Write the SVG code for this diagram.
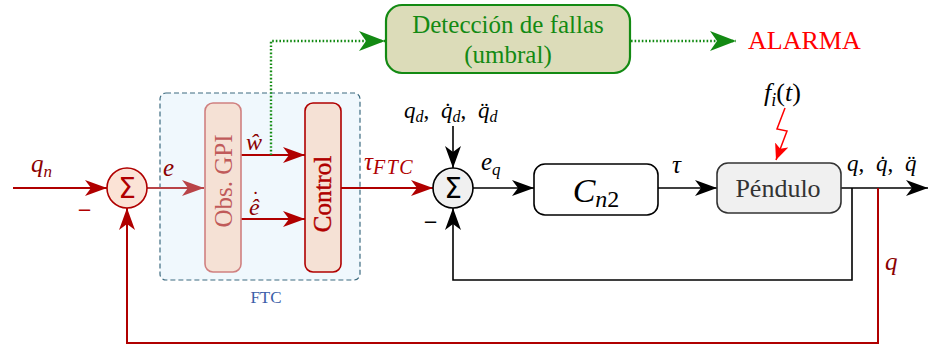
<svg xmlns="http://www.w3.org/2000/svg" width="929" height="346" viewBox="0 0 929 346">
<style>
.t{font-family:"Liberation Serif","DejaVu Serif",serif;}
.m{font-family:"Liberation Serif","DejaVu Serif",serif;font-style:italic;}
.s{font-family:"DejaVu Sans",sans-serif;}
.blk{stroke:#000;stroke-width:1.6;fill:none;}
.red{stroke:#b00000;stroke-width:2;fill:none;}
.lred{stroke:#b94448;stroke-width:2;fill:none;}
.grn{stroke:#138a13;stroke-width:2.4;fill:none;stroke-dasharray:1.6 2;}
</style>
<defs>
<marker id="ab" markerUnits="userSpaceOnUse" viewBox="0 0 22 16" refX="22" refY="8" markerWidth="22" markerHeight="16" orient="auto"><path d="M0,0 L22,8 L0,16 L6,8 z" fill="#000"/></marker>
<marker id="ar" markerUnits="userSpaceOnUse" viewBox="0 0 22 16" refX="22" refY="8" markerWidth="22" markerHeight="16" orient="auto"><path d="M0,0 L22,8 L0,16 L6,8 z" fill="#b00000"/></marker>
<marker id="al" markerUnits="userSpaceOnUse" viewBox="0 0 22 16" refX="22" refY="8" markerWidth="22" markerHeight="16" orient="auto"><path d="M0,0 L22,8 L0,16 L6,8 z" fill="#b94448"/></marker>
<marker id="ag" markerUnits="userSpaceOnUse" viewBox="0 0 26 20" refX="26" refY="10" markerWidth="26" markerHeight="20" orient="auto"><path d="M0,0 L26,10 L0,20 L7,10 z" fill="#138a13"/></marker>
<marker id="af" markerUnits="userSpaceOnUse" viewBox="0 0 16 14" refX="16" refY="7" markerWidth="16" markerHeight="14" orient="auto"><path d="M0,0 L16,7 L0,14 L4,7 z" fill="#ff0000"/></marker>
</defs>

<g id="ftc">
<rect x="160" y="93" width="200" height="187" rx="6" fill="#f0f8fd" stroke="#3d6b80" stroke-width="1.2" stroke-dasharray="5 3"/>
<text class="t" x="266" y="303" font-size="17" fill="#3b5ea8" text-anchor="middle">FTC</text>
</g>

<g id="connectors">
<line class="red" x1="13" y1="188" x2="107" y2="188" marker-end="url(#ar)"/>
<line class="lred" x1="147" y1="188" x2="204" y2="188" marker-end="url(#al)"/>
<line class="red" x1="241" y1="155" x2="305" y2="155" marker-end="url(#ar)"/>
<line class="red" x1="241" y1="219" x2="305" y2="219" marker-end="url(#ar)"/>
<polyline class="grn" points="271,155 271,41 385,41" marker-end="url(#ag)"/>
<line class="grn" x1="631" y1="41" x2="736" y2="41" marker-end="url(#ag)"/>
<line class="red" x1="341" y1="188" x2="433" y2="188" marker-end="url(#ar)"/>
<line class="blk" x1="453" y1="126" x2="453" y2="168" marker-end="url(#ab)"/>
<line class="blk" x1="473" y1="188" x2="534" y2="188" marker-end="url(#ab)"/>
<line class="blk" x1="658" y1="188" x2="717" y2="188" marker-end="url(#ab)"/>
<line class="blk" x1="841" y1="188" x2="928" y2="188" marker-end="url(#ab)"/>
<polyline class="blk" points="852,188 852,280 453,280 453,208" marker-end="url(#ab)"/>
<polyline class="red" points="878,188 878,343 127,343 127,208" marker-end="url(#ar)"/>
<polyline points="785,108 777,129 787,131 776,160" fill="none" stroke="#ff0000" stroke-width="1.5" marker-end="url(#af)"/>
</g>

<g id="sum1">
<circle cx="127" cy="188" r="20" fill="#fbe3d6" stroke="#b00000" stroke-width="1.6"/>
<text class="s" x="127" y="198" font-size="28" fill="#b00000" text-anchor="middle">Σ</text>
</g>

<g id="obs">
<rect x="205" y="103" width="36" height="169" rx="8" fill="#f5e1d5" stroke="#d08080" stroke-width="1.6"/>
<text class="t" transform="translate(232,181) rotate(-90)" font-size="25" fill="#c05a5a" text-anchor="middle">Obs. GPI</text>
</g>

<g id="control">
<rect x="305" y="103" width="36" height="169" rx="8" fill="#f5e1d5" stroke="#b00000" stroke-width="1.6"/>
<text class="t" transform="translate(331,194) rotate(-90)" font-size="25" fill="#b00000" stroke="#b00000" stroke-width="0.4" text-anchor="middle">Control</text>
</g>

<g id="deteccion">
<rect x="386" y="5" width="244" height="68" rx="16" fill="#dcdcb9" stroke="#138a13" stroke-width="2.2"/>
<text class="t" x="508" y="33" font-size="25" fill="#138a13" text-anchor="middle">Detección de fallas</text>
<text class="t" x="508" y="63" font-size="25" fill="#138a13" text-anchor="middle">(umbral)</text>
</g>

<g id="alarma">
<text class="t" x="748" y="49" font-size="26" fill="#ff0000">ALARMA</text>
</g>

<g id="sum2">
<circle cx="453" cy="188" r="20" fill="#f0f0f0" stroke="#000" stroke-width="1.6"/>
<text class="s" x="453" y="198" font-size="28" fill="#000" text-anchor="middle">Σ</text>
</g>

<g id="cn2">
<rect x="534" y="164" width="124" height="51" rx="11" fill="#fff" stroke="#000" stroke-width="1.6"/>
<text class="m" x="596" y="202" font-size="34" text-anchor="middle">C<tspan font-size="24" dy="5">n</tspan><tspan font-size="24" font-style="normal">2</tspan></text>
</g>

<g id="pendulo">
<rect x="717" y="163" width="124" height="50" rx="11" fill="#f0f0f0" stroke="#333" stroke-width="1.6"/>
<text class="t" x="778" y="197" font-size="26" fill="#333" text-anchor="middle">Péndulo</text>
</g>

<g id="labels">
<text class="m" x="31" y="172" font-size="25" fill="#8b0000">q<tspan font-size="17" dy="5">n</tspan></text>
<text class="s" x="77" y="216" font-size="18" fill="#b00000">−</text>
<text class="m" x="163" y="176" font-size="25" fill="#8b0000">e</text>
<text class="m" x="246" y="150" font-size="24" fill="#8b0000">ŵ</text>
<text class="m" x="249" y="215" font-size="24" fill="#8b0000">ê<tspan font-size="20" font-style="normal" dx="-7.5" dy="-9">˙</tspan></text>
<text class="m" x="364" y="170" font-size="25" fill="#b00000">τ<tspan font-size="20" dy="4" letter-spacing="1.5">FTC</tspan></text>
<text class="m" x="404" y="118" font-size="23">q<tspan font-size="16" dy="4">d</tspan><tspan font-style="normal" dy="-4">, </tspan><tspan dx="6">q̇</tspan><tspan font-size="16" dy="4">d</tspan><tspan font-style="normal" dy="-4">, </tspan><tspan dx="6">q̈</tspan><tspan font-size="16" dy="4">d</tspan></text>
<text class="s" x="423" y="228" font-size="18">−</text>
<text class="m" x="481" y="170" font-size="25">e<tspan font-size="17" dy="5">q</tspan></text>
<text class="m" x="672" y="173" font-size="25">τ</text>
<text class="m" x="764" y="101" font-size="26">f<tspan font-size="18" dy="5">i</tspan><tspan font-style="normal" dy="-5">(</tspan>t<tspan font-style="normal">)</tspan></text>
<text class="m" x="847" y="171" font-size="23">q<tspan font-style="normal">, </tspan><tspan dx="6">q̇</tspan><tspan font-style="normal">, </tspan><tspan dx="6">q̈</tspan></text>
<text class="m" x="885" y="270" font-size="25" fill="#8b0000">q</text>
</g>
</svg>
